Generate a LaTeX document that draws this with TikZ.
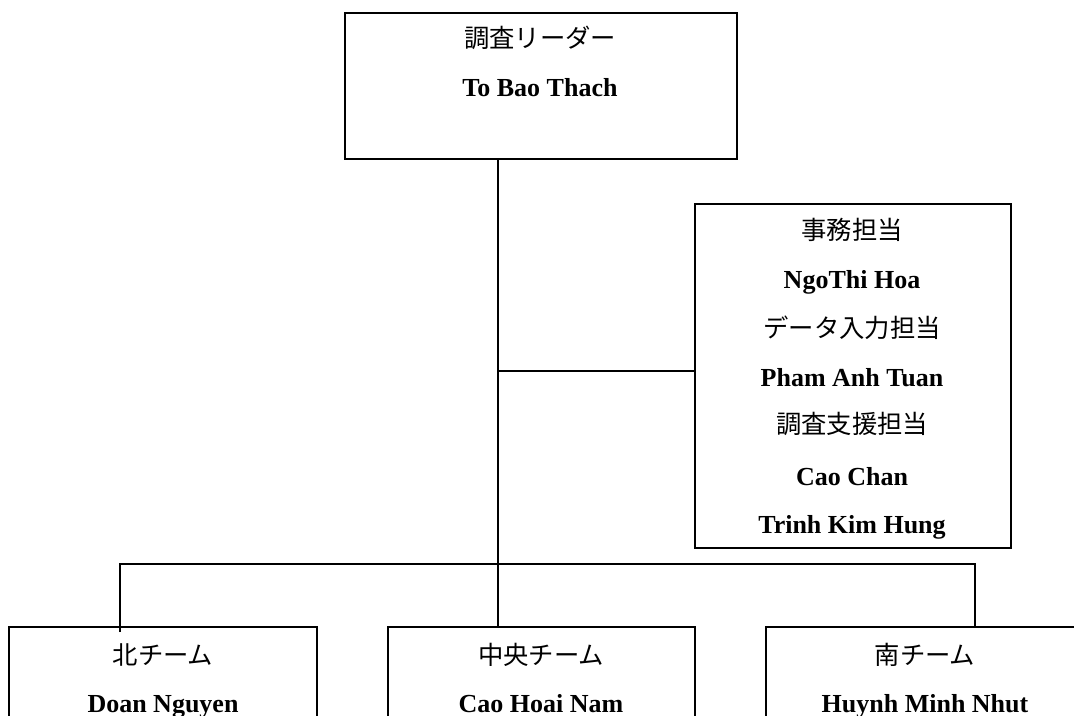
\documentclass[tikz,border=0pt]{standalone}
\usepackage{fontspec}
\setmainfont{Liberation Serif}
\newfontfamily\jp{Noto Sans CJK JP}
\begin{document}
\begin{tikzpicture}[x=0.75pt,y=-0.75pt,
  box/.style={draw=black,line width=1.5pt,rectangle,anchor=north west,inner sep=0pt},
  conn/.style={draw=black,line width=1.5pt},
  jtxt/.style={anchor=base,inner sep=0pt,font=\jp\fontsize{19pt}{22pt}\selectfont},
  ntxt/.style={anchor=base,inner sep=0pt,font=\bfseries\fontsize{19.5pt}{23pt}\selectfont}]
\useasboundingbox (0,0) rectangle (1074,716);
\clip (0,0) rectangle (1074,716);
% boxes
\node[box,minimum width=294pt,minimum height=109.5pt] (lead) at (344,12) {};
\node[box,minimum width=237pt,minimum height=258pt] (staff) at (694,203) {};
\node[box,minimum width=231pt,minimum height=120pt] (north) at (8,626) {};
\node[box,minimum width=230.25pt,minimum height=120pt] (center) at (387,626) {};
\node[box,minimum width=240pt,minimum height=120pt] (south) at (765,626) {};
% texts
\node[jtxt] (t1) at (540,48) {調査リーダー};
\node[ntxt] (t2) at (540,97) {To Bao Thach};
\node[jtxt] (s1) at (852,240) {事務担当};
\node[ntxt] (s2) at (852,289) {NgoThi Hoa};
\node[jtxt] (s3) at (852,338) {データ入力担当};
\node[ntxt] (s4) at (852,387) {Pham Anh Tuan};
\node[jtxt] (s5) at (852,433) {調査支援担当};
\node[ntxt] (s6) at (852,485) {Cao Chan};
\node[ntxt] (s7) at (852,533) {Trinh Kim Hung};
\node[jtxt] (n1) at (163,664) {北チーム};
\node[ntxt] (n2) at (163,712) {Doan Nguyen};
\node[jtxt] (c1) at (541,664) {中央チーム};
\node[ntxt] (c2) at (541,712) {Cao Hoai Nam};
\node[jtxt] (r1) at (925,664) {南チーム};
\node[ntxt] (r2) at (925,712) {Huynh Minh Nhut};
% connectors
\coordinate (j1) at (498,371);
\coordinate (j2) at (498,564);
\coordinate (lj) at (120,564);
\coordinate (rj) at (975,564);
\draw[conn] (lead.south -| j1) -- (j1) -- (j2) -- (center.north -| j2);
\draw[conn] (j1) -- (j1 -| staff.west);
\draw[conn] (lj |- north.north) ++(0,6) -- (lj) -- (rj) -- (rj |- south.north);
\end{tikzpicture}
\end{document}
